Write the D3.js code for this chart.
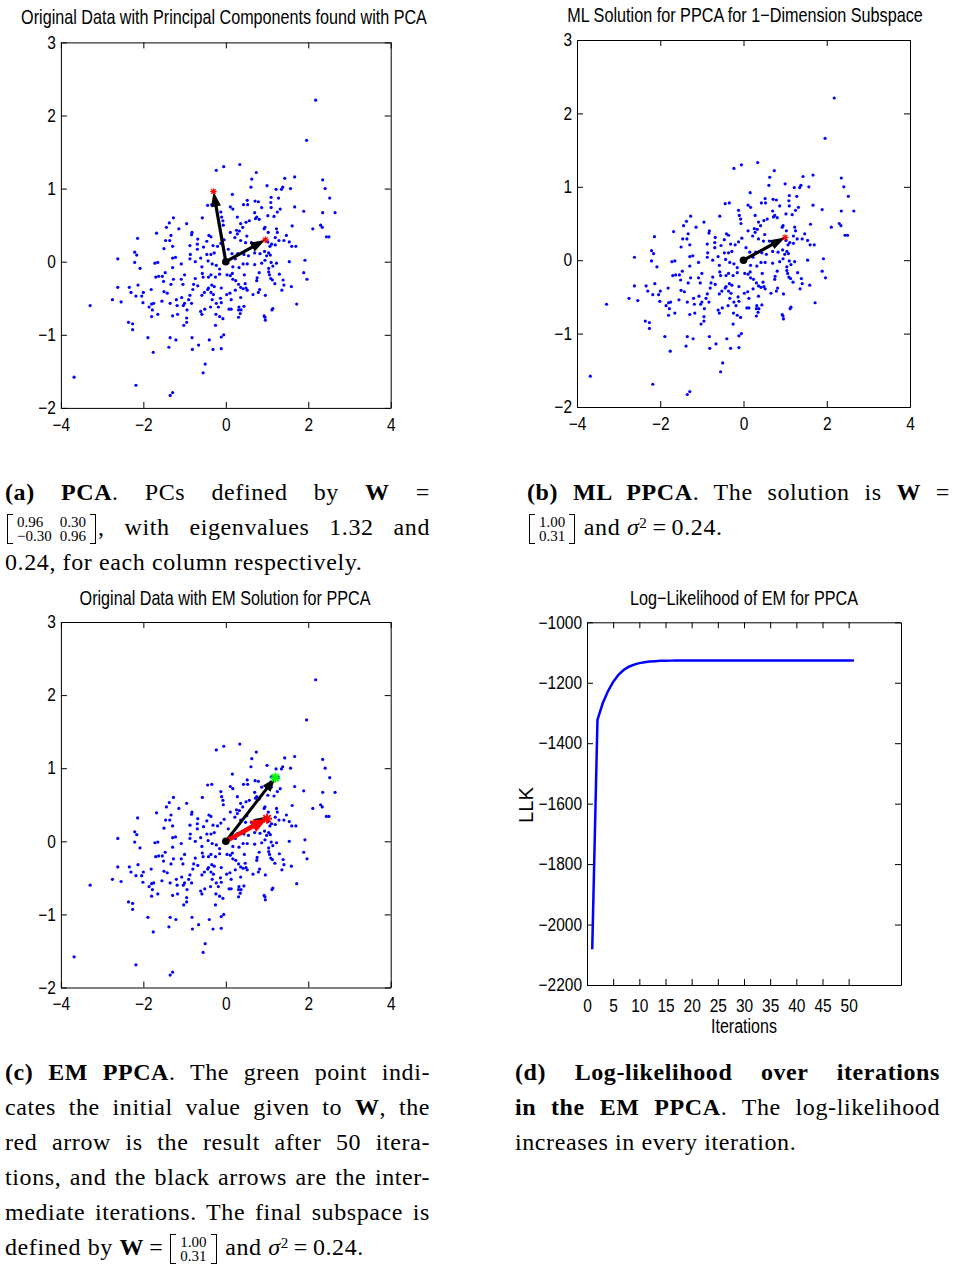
<!DOCTYPE html>
<html>
<head>
<meta charset="UTF-8">
<script src="https://d3js.org/d3.v7.min.js"></script>
<style>
body { margin: 0; width: 953px; height: 1265px; position: relative; background: #fff; overflow: hidden; }
svg { position: absolute; left: 0; top: 0; }
.axis text { font-family: "Liberation Sans Narrow", "Liberation Sans", Arial, sans-serif; font-size: 18px; fill: #000; }
.axis path, .axis line { stroke: #000; stroke-width: 1; }
.title { font-family: "Liberation Sans Narrow", "Liberation Sans", Arial, sans-serif; font-size: 20px; fill: #000; }
.cap { position: absolute; font-family: "Liberation Serif", serif; font-size: 24px; letter-spacing: 0.6px; line-height: 35px; color: #000; }
.cap .ln { height: 35px; white-space: nowrap; text-align: justify; text-align-last: justify; }
.cap .ln.last { text-align-last: left; }
.cap .sq { position: relative; top: -0.5em; font-size: 15px; line-height: 0; }
.cap .eq { margin: 0 5px; }
.mat { display: inline-flex; vertical-align: -9px; align-items: stretch; font-size: 15px; line-height: 14px; letter-spacing: 0; margin: 0 2px; }
.mat .lb, .mat .rb { width: 5px; border: 1.2px solid #000; }
.mat .lb { border-right: none; }
.mat .rb { border-left: none; }
.mat table { border-collapse: collapse; margin: 1px 0; }
.mat td { padding: 0 4px; text-align: right; }
</style>
</head>
<body>
<svg id="fig" width="953" height="1265"></svg>

<!-- legendas em LaTeX, linha a linha -->
<div class="cap" style="left:5px; top:475px; width:425px">
  <div class="ln"><b>(a)</b> <b>PCA</b>. PCs defined by <b>W</b> =</div>
  <div class="ln"><span class="mat"><span class="lb"></span><table><tr><td>0.96</td><td>0.30</td></tr><tr><td>&minus;0.30</td><td>0.96</td></tr></table><span class="rb"></span></span>, with eigenvalues 1.32 and</div>
  <div class="ln last">0.24, for each column respectively.</div>
</div>
<div class="cap" style="left:527px; top:475px; width:423px">
  <div class="ln"><b>(b)</b> <b>ML PPCA</b>. The solution is <b>W</b> =</div>
  <div class="ln last"><span class="mat"><span class="lb"></span><table><tr><td>1.00</td></tr><tr><td>0.31</td></tr></table><span class="rb"></span></span> and <i>&sigma;</i><span class="sq">2</span><span class="eq">=</span>0.24.</div>
</div>
<div class="cap" style="left:5px; top:1055px; width:425px">
  <div class="ln"><b>(c)</b> <b>EM PPCA</b>. The green point indi-</div>
  <div class="ln">cates the initial value given to <b>W</b>, the</div>
  <div class="ln">red arrow is the result after 50 itera-</div>
  <div class="ln">tions, and the black arrows are the inter-</div>
  <div class="ln">mediate iterations. The final subspace is</div>
  <div class="ln last">defined by <b>W</b><span class="eq">=</span><span class="mat"><span class="lb"></span><table><tr><td>1.00</td></tr><tr><td>0.31</td></tr></table><span class="rb"></span></span> and <i>&sigma;</i><span class="sq">2</span><span class="eq">=</span>0.24.</div>
</div>
<div class="cap" style="left:515px; top:1055px; width:425px">
  <div class="ln"><b>(d)</b> <b>Log-likelihood over iterations</b></div>
  <div class="ln"><b>in the EM PPCA</b>. The log-likelihood</div>
  <div class="ln last">increases in every iteration.</div>
</div>

<script>
// puntos 2D (mismo conjunto en a, b y c)
var dataPoints = [
  [-0.23,1.25],[-0.05,1.30],[-0.44,0.77],[-0.34,0.78],[-1.27,0.60],[-0.57,0.60],[-1.37,0.53],[-0.95,0.52],
  [-1.44,0.47],[-1.14,0.45],[-1.68,0.39],[-1.33,0.36],[-0.82,0.40],[-0.83,0.37],[-2.14,0.32],[-1.46,0.29],
  [-1.36,0.29],[-0.68,0.31],[-0.46,0.28],[-0.41,0.36],[-0.36,0.34],[-0.87,0.22],[-0.69,0.24],[-0.54,0.20],
  [-0.31,0.22],[-0.20,0.21],[-1.50,0.18],[-1.29,0.21],[-2.21,0.13],[-2.16,0.09],[-0.86,0.10],[-0.69,0.17],
  [-0.46,0.10],[-0.36,0.10],[-0.28,0.12],[-2.62,0.04],[-2.21,-0.01],[-1.72,-0.02],[-1.65,-0.01],[-1.29,0.05],
  [-1.22,0.06],[-1.08,-0.03],[-0.87,0.04],[-0.74,0.00],[-0.61,0.05],[-0.43,0.01],[-0.33,-0.03],[-0.23,-0.05],
  [-2.08,-0.09],[-1.29,-0.08],[-0.58,-0.07],[-0.15,-0.10],[-0.12,0.68],[-0.10,0.61],[-0.07,0.56],[-0.06,0.50],
  [-0.04,0.30],[-0.12,0.25],
  [2.18,2.21],[1.96,1.66],[0.34,1.33],[0.74,1.22],[0.63,1.13],[0.61,1.02],[1.00,1.04],[1.43,1.14],
  [1.67,1.16],[1.22,0.99],[1.35,0.99],[1.38,1.02],[1.57,1.00],[2.35,1.12],[2.41,1.00],[2.52,0.87],
  [2.65,0.67],[2.35,0.67],[1.89,0.69],[1.67,0.75],[0.16,0.92],[0.52,0.84],[0.43,0.78],[0.53,0.78],
  [0.71,0.83],[0.79,0.82],[0.87,0.74],[1.10,0.88],[1.09,0.81],[1.10,0.74],[1.28,0.87],[1.32,0.72],
  [1.25,0.68],[1.17,0.62],[1.02,0.63],[0.70,0.67],[0.75,0.61],[0.81,0.58],[0.72,0.59],[0.57,0.56],
  [0.49,0.54],[0.28,0.61],[0.11,0.75],[0.17,0.72],[0.36,0.52],[0.41,0.47],[0.33,0.42],[0.26,0.43],
  [0.28,0.38],[0.11,0.40],[0.22,0.33],[0.36,0.29],[0.48,0.26],[0.51,0.35],[0.62,0.26],[0.95,0.47],
  [0.93,0.45],[1.03,0.40],[1.23,0.45],[1.25,0.40],[1.20,0.33],[1.11,0.24],[1.20,0.23],[1.29,0.29],
  [1.41,0.29],[1.47,0.36],[1.54,0.27],[1.61,0.49],[1.70,0.21],[1.60,0.21],[1.07,0.21],[1.02,0.27],
  [2.11,0.45],[2.30,0.50],[2.34,0.47],[2.44,0.34],[2.50,0.34],[1.92,0.02],[1.54,0.00],[0.70,0.12],
  [0.83,0.11],[0.94,0.14],[1.04,0.12],[0.99,0.08],[1.08,0.09],[0.95,0.02],[1.10,-0.01],[1.23,-0.02],
  [1.14,-0.06],[1.04,-0.09],[0.87,-0.02],[0.70,-0.04],[0.52,-0.03],[0.42,-0.03],[0.55,0.08],[0.44,0.10],
  [0.23,0.04],[0.15,0.11],[0.06,0.17],[0.29,0.11],[0.32,-0.08],[0.17,-0.07],
  [-1.47,-0.15],[-1.70,-0.21],[-1.63,-0.20],[-1.54,-0.20],[-1.51,-0.27],[-1.27,-0.24],[-1.33,-0.31],[-1.00,-0.18],
  [-1.08,-0.24],[-1.04,-0.31],[-0.78,-0.31],[-0.68,-0.33],[-0.74,-0.23],[-0.57,-0.16],[-0.55,-0.21],[-0.42,-0.21],
  [-0.36,-0.18],[-0.25,-0.21],[-0.15,-0.17],[-0.34,-0.32],[-0.28,-0.34],[-0.11,-0.36],[-0.42,-0.36],[-2.62,-0.35],
  [-2.34,-0.35],[-2.13,-0.32],[-2.30,-0.42],[-2.18,-0.47],[-2.04,-0.47],[-2.00,-0.42],[-1.81,-0.38],[-1.50,-0.41],
  [-1.42,-0.43],[-2.75,-0.52],[-2.54,-0.55],[-3.29,-0.60],[-2.01,-0.56],[-1.86,-0.62],[-1.80,-0.58],[-1.75,-0.57],
  [-1.78,-0.66],[-1.55,-0.54],[-1.35,-0.57],[-1.20,-0.52],[-1.18,-0.60],[-1.17,-0.72],[-1.29,-0.74],[-1.65,-0.72],
  [-1.80,-0.75],[-1.07,-0.49],[-1.03,-0.60],[-1.00,-0.57],[-0.94,-0.66],[-0.95,-0.77],[-0.95,-0.83],[-1.02,-0.87],
  [-0.90,-0.52],[-0.87,-0.46],[-0.83,-0.57],[-0.80,-0.38],[-0.58,-0.46],[-0.52,-0.42],[-0.44,-0.38],[-0.36,-0.42],
  [-0.30,-0.45],[-0.61,-0.68],[-0.58,-0.72],[-0.51,-0.65],[-0.37,-0.62],[-0.33,-0.52],[-0.23,-0.57],[-0.18,-0.62],
  [-0.13,-0.50],[-0.11,-0.56],[-0.24,-0.72],[-0.15,-0.75],[-0.07,-0.78],[-0.25,-0.87],[-2.36,-0.83],[-2.26,-0.85],
  [-2.26,-0.93],[-1.89,-1.04],[-1.76,-1.24],[-1.35,-1.04],[-1.38,-1.17],[-1.21,-1.07],[-0.82,-1.04],[-0.81,-1.20],
  [-0.66,-1.14],[-0.40,-1.07],[-0.31,-1.20],[-0.11,-1.03],[-0.11,-1.19],[-0.05,-1.00],[-0.50,-1.40],[-0.55,-1.52],
  [-3.68,-1.58],[-2.18,-1.69],[-1.35,-1.83],[-1.29,-1.79],
  [0.03,-0.18],[0.11,-0.19],[0.16,-0.16],[0.17,-0.24],[0.24,-0.26],[0.45,-0.18],[0.31,-0.31],[0.36,-0.35],
  [0.42,-0.37],[0.47,-0.30],[0.49,-0.36],[0.52,-0.39],[0.23,-0.39],[0.10,-0.43],[0.02,-0.45],[0.13,-0.52],
  [0.36,-0.49],[0.44,-0.61],[0.32,-0.62],[0.37,-0.66],[0.31,-0.66],[0.35,-0.71],[0.31,-0.76],[0.08,-0.65],
  [0.13,-0.65],[0.66,-0.45],[0.79,-0.42],[0.82,-0.38],[0.75,-0.26],[0.76,-0.22],[0.81,-0.15],[0.96,-0.46],
  [1.04,-0.14],[1.06,-0.18],[1.09,-0.23],[1.13,-0.25],[1.19,-0.30],[1.30,-0.17],[1.36,-0.39],[1.41,-0.32],
  [1.39,-0.25],[1.59,-0.34],[1.89,-0.15],[1.97,-0.24],[1.72,-0.58],[1.14,-0.64],[1.12,-0.66],[0.93,-0.74],
  [0.95,-0.76],[0.96,-0.80]
];

// vectores dibujados como flechas
var pcaArrows = [[0.96, 0.30], [-0.30, 0.96]];
var mlArrow = [1.00, 0.31];
var emInit = [1.20, 0.87];
var emSteps = [[1.02, 0.34]];
var emFinal = [1.00, 0.31];

// log-verosimilitud por iteración
var llk = [-2082, -1323, -1268, -1228, -1197, -1174, -1158, -1147, -1140, -1135,
  -1132, -1130, -1128.5, -1127.5, -1127, -1126.8, -1126.6, -1126.5, -1126.4, -1126.3,
  -1126.3, -1126.2, -1126.2, -1126.2, -1126.1, -1126.1, -1126.1, -1126.1, -1126, -1126,
  -1126, -1126, -1126, -1126, -1126, -1126, -1126, -1126, -1126, -1126,
  -1126, -1126, -1126, -1126, -1126, -1126, -1126, -1126, -1126, -1126, -1126];

var scatterTicksX = [-4, -2, 0, 2, 4];
var scatterTicksY = [-2, -1, 0, 1, 2, 3];
var iterTicks = [0, 5, 10, 15, 20, 25, 30, 35, 40, 45, 50];
var llkTicks = [-2200, -2000, -1800, -1600, -1400, -1200, -1000];

var svg = d3.select("#fig");
var fmt = d => d < 0 ? "\u2212" + Math.abs(d) : String(d);

// estrecha las etiquetas (Helvetica condensada de MATLAB)
function narrow(sel) {
  sel.selectAll("text").each(function() {
    var w = this.getComputedTextLength();
    if (w > 0) d3.select(this).attr("textLength", w * 0.86).attr("lengthAdjust", "spacingAndGlyphs");
  });
}

// caja con ticks hacia dentro en los cuatro lados (estilo MATLAB)
function box(g, x, y, xt, yt, b, pad) {
  g.append("g").attr("class", "axis").attr("transform", `translate(0,${b.b})`)
    .call(d3.axisBottom(x).tickValues(xt).tickFormat(fmt).tickSize(-6).tickSizeOuter(0).tickPadding(pad || 10))
    .call(narrow);
  g.append("g").attr("class", "axis").attr("transform", `translate(0,${b.t})`)
    .call(d3.axisTop(x).tickValues(xt).tickSize(-6).tickSizeOuter(0).tickFormat(""));
  g.append("g").attr("class", "axis").attr("transform", `translate(${b.l},0)`)
    .call(d3.axisLeft(y).tickValues(yt).tickFormat(fmt).tickSize(-6).tickSizeOuter(0).tickPadding(5))
    .call(narrow);
  g.append("g").attr("class", "axis").attr("transform", `translate(${b.r},0)`)
    .call(d3.axisRight(y).tickValues(yt).tickSize(-6).tickSizeOuter(0).tickFormat(""));
}

// texto escalado en horizontal hasta el ancho w
function label(g, txt, cx, by, w, rot) {
  var t = g.append("text").attr("class", "title").attr("text-anchor", "middle").text(txt);
  var sx = w / t.node().getComputedTextLength();
  t.attr("transform", `translate(${cx},${by}) rotate(${rot || 0}) scale(${sx},1)`);
}

function arrow(g, x, y, tip, color, lw, hl, hw) {
  var x0 = x(0), y0 = y(0), x1 = x(tip[0]), y1 = y(tip[1]);
  var dx = x1 - x0, dy = y1 - y0, L = Math.hypot(dx, dy), ux = dx / L, uy = dy / L;
  var bx = x1 - ux * hl, by = y1 - uy * hl;
  g.append("line").attr("x1", x0).attr("y1", y0).attr("x2", bx + ux * 2).attr("y2", by + uy * 2)
    .attr("stroke", color).attr("stroke-width", lw);
  g.append("polygon").attr("fill", color)
    .attr("points", [[x1, y1], [bx - uy * hw / 2, by + ux * hw / 2], [bx + uy * hw / 2, by - ux * hw / 2]].join(" "));
}

function star(g, cx, cy, r, color, sw) {
  [0, 45, 90, 135].forEach(function(a) {
    var c = Math.cos(a * Math.PI / 180) * r, s = Math.sin(a * Math.PI / 180) * r;
    g.append("line").attr("x1", cx - c).attr("y1", cy - s).attr("x2", cx + c).attr("y2", cy + s)
      .attr("stroke", color).attr("stroke-width", sw);
  });
}

function scatter(b, ttl, tx, ty, tw) {
  var g = svg.append("g");
  var x = d3.scaleLinear().domain([-4, 4]).range([b.l, b.r]);
  var y = d3.scaleLinear().domain([-2, 3]).range([b.b, b.t]);
  box(g, x, y, scatterTicksX, scatterTicksY, b);
  label(g, ttl, tx, ty, tw);
  g.append("g").selectAll("circle").data(dataPoints).enter().append("circle")
    .attr("cx", d => x(d[0])).attr("cy", d => y(d[1])).attr("r", 1.6).attr("fill", "#0000ff");
  return { g: g, x: x, y: y };
}

// (a) PCA
var pa = scatter({ l: 60.9, r: 390.7, t: 42.4, b: 407.9 },
  "Original Data with Principal Components found with PCA", 224, 24, 406);
pcaArrows.forEach(function(v) {
  arrow(pa.g, pa.x, pa.y, v, "#000", 3.2, 15, 10);
  star(pa.g, pa.x(v[0]), pa.y(v[1]), 3.2, "#ff0000", 1.2);
});
pa.g.append("circle").attr("cx", pa.x(0)).attr("cy", pa.y(0)).attr("r", 3.8).attr("fill", "#000");

// (b) ML PPCA
var pb = scatter({ l: 577, r: 910, t: 40, b: 407 },
  "ML Solution for PPCA for 1\u2212Dimension Subspace", 745, 22, 356);
arrow(pb.g, pb.x, pb.y, mlArrow, "#000", 3.2, 15, 10);
star(pb.g, pb.x(mlArrow[0]), pb.y(mlArrow[1]), 3.2, "#ff0000", 1.2);
pb.g.append("circle").attr("cx", pb.x(0)).attr("cy", pb.y(0)).attr("r", 3.8).attr("fill", "#000");

// (c) EM PPCA
var pc = scatter({ l: 60.9, r: 390.7, t: 622, b: 987.5 },
  "Original Data with EM Solution for PPCA", 225, 605, 291);
arrow(pc.g, pc.x, pc.y, emInit, "#000", 3, 14, 10);
star(pc.g, pc.x(emInit[0]), pc.y(emInit[1]), 5, "#00ff00", 2);
emSteps.forEach(function(v) { arrow(pc.g, pc.x, pc.y, v, "#000", 3, 14, 10); });
arrow(pc.g, pc.x, pc.y, emFinal, "#ff0000", 4.5, 16, 13);
star(pc.g, pc.x(emFinal[0]), pc.y(emFinal[1]), 5, "#ff0000", 2);
pc.g.append("circle").attr("cx", pc.x(0)).attr("cy", pc.y(0)).attr("r", 3.8).attr("fill", "#000");

// (d) log-likelihood
var bd = { l: 587, r: 901, t: 622.3, b: 985 };
var gd = svg.append("g");
var xd = d3.scaleLinear().domain([0, 60]).range([bd.l, bd.r]);
var yd = d3.scaleLinear().domain([-2200, -1000]).range([bd.b, bd.t]);
box(gd, xd, yd, iterTicks, llkTicks, bd, 14);
label(gd, "Log\u2212Likelihood of EM for PPCA", 744, 605, 228);
gd.append("path").datum(llk).attr("fill", "none").attr("stroke", "#0000ff").attr("stroke-width", 2.5)
  .attr("d", d3.line().x((d, i) => xd(i + 1)).y(d => yd(d)));
label(gd, "Iterations", 744, 1033, 66);
label(gd, "LLK", 533, 805, 36, -90);
</script>
</body>
</html>
